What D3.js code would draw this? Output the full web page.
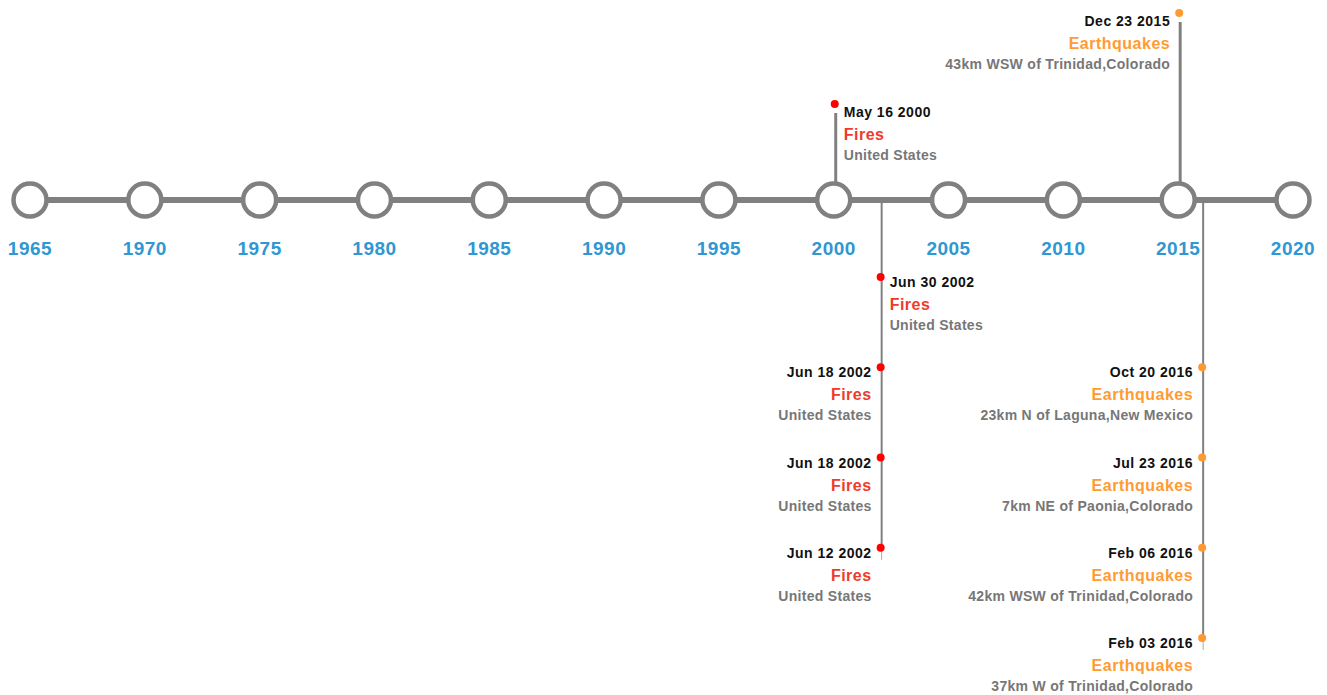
<!DOCTYPE html>
<html>
<head>
<meta charset="utf-8">
<script src="https://cdn.jsdelivr.net/npm/d3@7"></script>
<style>
  body { margin: 0; background: #fff; }
  svg { display: block; font-family: "Liberation Sans", Arial, Helvetica, sans-serif; font-weight: bold; }
</style>
</head>
<body>
<div id="timeline"></div>
<script>
      // tick years along the main line
      var years = [1965, 1970, 1975, 1980, 1985, 1990, 1995, 2000, 2005, 2010, 2015, 2020];
      // events
      var dates = ["May 16 2000", "Jun 30 2002", "Jun 18 2002", "Jun 18 2002", "Jun 12 2002",
                   "Dec 23 2015", "Oct 20 2016", "Jul 23 2016", "Feb 06 2016", "Feb 03 2016"];
      var categories = ["Fires", "Fires", "Fires", "Fires", "Fires",
                        "Earthquakes", "Earthquakes", "Earthquakes", "Earthquakes", "Earthquakes"];
      var places = ["United States", "United States", "United States", "United States", "United States",
                    "43km WSW of Trinidad,Colorado", "23km N of Laguna,New Mexico", "7km NE of Paonia,Colorado",
                    "42km WSW of Trinidad,Colorado", "37km W of Trinidad,Colorado"];

      var width = 1327;
      var height = 695;
      var axisY = 200;
      var colors = { "Fires": "#ee3b2b", "Earthquakes": "#ff9b33" };
      var dotColors = { "Fires": "#ff0000", "Earthquakes": "#ff9933" };

      var chart = d3.select('#timeline').append("svg")
                    .attr('width', width)
                    .attr('height', height);

      var x = d3.scaleLinear().domain([1965, 2020]).range([30, 1293]);
      // level -> y for each side of the line
      var yAbove = d3.scaleLinear().domain([1, 2]).range([104, 13]);
      var yBelow = d3.scaleLinear().domain([1, 5]).range([277, 638]);

      var parse = d3.timeParse("%b %d %Y");
      var events = dates.map(function(d, i){
        var t = parse(d);
        return { label: d, date: t, year: t.getFullYear(), cat: categories[i], place: places[i] };
      });

      // group by year, alternate sides, newest first inside a group
      var groups = d3.groups(events, function(d){ return d.year; })
                     .sort(function(a, b){ return a[0] - b[0]; });
      var items = [];
      var stems = [];
      groups.forEach(function(g, gi){
        var above = gi % 2 === 0;
        var start = 1 + Math.floor(gi / 2);
        var list = g[1].slice().sort(function(a, b){ return b.date - a.date; });
        var sx = x(g[0]) + 2;
        list.forEach(function(d, j){
          var lvl = start + j;
          d.level = lvl;
          d.above = above;
          d.sx = sx;
          d.y = above ? yAbove(lvl) : yBelow(lvl);
          items.push(d);
        });
        var last = list[list.length - 1];
        stems.push({ x: sx, above: above, y: last.y });
      });

      // stems
      chart.selectAll('.stem').data(stems).enter().append('line')
           .attr('class', 'stem')
           .attr('x1', function(d){ return d.x; })
           .attr('x2', function(d){ return d.x; })
           .attr('y1', axisY)
           .attr('y2', function(d){ return d.above ? d.y + 9 : d.y; })
           .attr('stroke', '#808080')
           .attr('stroke-width', function(d){ return d.above ? 3 : 2; });
      chart.selectAll('.tail').data(stems.filter(function(d){ return !d.above; })).enter().append('line')
           .attr('class', 'tail')
           .attr('x1', function(d){ return d.x; })
           .attr('x2', function(d){ return d.x; })
           .attr('y1', function(d){ return d.y; })
           .attr('y2', function(d){ return d.y + 12; })
           .attr('stroke', '#aaa')
           .attr('stroke-width', 1);

      // main line
      chart.append('line')
           .attr('x1', x(1965)).attr('x2', x(2020))
           .attr('y1', axisY).attr('y2', axisY)
           .attr('stroke', '#808080')
           .attr('stroke-width', 6);

      // year circles + labels
      chart.selectAll('.yr').data(years).enter().append('circle')
           .attr('class', 'yr')
           .attr('cx', function(d){ return x(d); })
           .attr('cy', axisY)
           .attr('r', 16.5)
           .attr('fill', '#fff')
           .attr('stroke', '#808080')
           .attr('stroke-width', 4.5);
      chart.selectAll('.yrlabel').data(years).enter().append('text')
           .attr('class', 'yrlabel')
           .attr('x', function(d){ return x(d); })
           .attr('y', 255)
           .attr('text-anchor', 'middle')
           .attr('fill', '#2f97d1')
           .style('font-size', '19px')
           .style('letter-spacing', '0.5px')
           .text(function(d){ return d; });

      // event dots
      chart.selectAll('.dot').data(items).enter().append('circle')
           .attr('class', 'dot')
           .attr('cx', function(d){ return d.sx - 1; })
           .attr('cy', function(d){ return d.y; })
           .attr('r', 4)
           .attr('fill', function(d){ return dotColors[d.cat]; });

      // event labels, nearest level goes right, others left
      var lab = chart.selectAll('.ev').data(items).enter().append('g')
           .attr('class', 'ev')
           .attr('transform', function(d){
             var right = d.level === 1;
             return 'translate(' + (right ? d.sx + 8 : d.sx - 10) + ',' + (d.y + (d.above ? 3 : 0)) + ')';
           })
           .attr('text-anchor', function(d){ return d.level === 1 ? 'start' : 'end'; });
      lab.append('text')
         .attr('y', 10)
         .attr('fill', '#111')
         .style('font-size', '14px')
         .style('letter-spacing', '0.5px')
         .text(function(d){ return d.label; });
      lab.append('text')
         .attr('y', 33)
         .attr('fill', function(d){ return colors[d.cat]; })
         .style('font-size', '16px')
         .style('letter-spacing', '0.5px')
         .text(function(d){ return d.cat; });
      lab.append('text')
         .attr('y', 53)
         .attr('fill', '#777')
         .style('font-size', '14px')
         .style('letter-spacing', '0.3px')
         .text(function(d){ return d.place; });
</script>
</body>
</html>
